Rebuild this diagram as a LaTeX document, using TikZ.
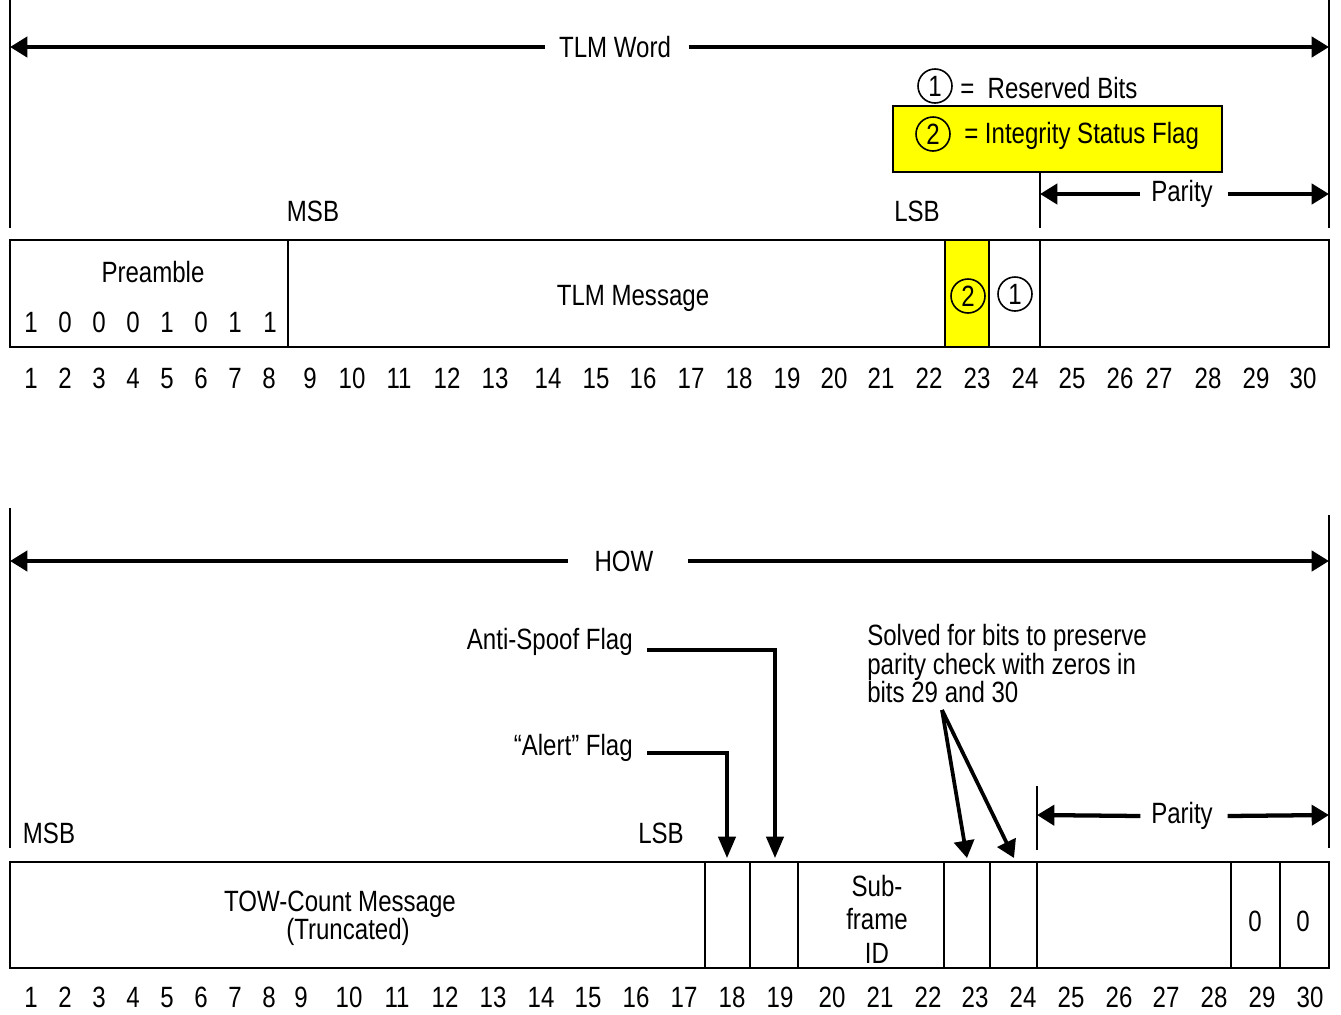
\documentclass[tikz,border=0pt]{standalone}
\usepackage{fontspec}
\setmainfont[FakeStretch=0.82]{Liberation Sans}
\usetikzlibrary{arrows.meta}
\definecolor{flagyellow}{RGB}{255,255,0}
\begin{document}
\begin{tikzpicture}[x=0.75pt,y=-0.75pt,
  txt/.style={font=\fontsize{22}{24}\selectfont, inner sep=0pt},
  digit/.style={font=\fontsize{22}{24}\selectfont, inner sep=0pt, anchor=base, yshift=-8pt},
  box/.style={draw=black, line width=1.5pt},
  edge/.style={draw=black, line width=1.5pt},
  bigarrow/.style={draw=black, line width=3.2pt, -{Triangle[length=13pt,width=15pt]}},
  flagarrow/.style={draw=black, line width=2.4pt, -{Triangle[length=16pt,width=13pt]}},
  num/.style={draw=black, line width=1.2pt, circle, minimum size=25.5pt, inner sep=0pt, font=\fontsize{22}{24}\selectfont}
]
\useasboundingbox (0,0) rectangle (1341,1014);

% ================= TLM WORD =================
\coordinate (tl0) at (10,0);   \coordinate (tl1) at (10,228);
\coordinate (tr0) at (1329,0); \coordinate (tr1) at (1329,228);
\draw[edge] (tl0) -- (tl1);
\draw[edge] (tr0) -- (tr1);
\node[txt] (tlm) at (615,47) {TLM Word};
\coordinate (tlmL) at (10,47); \coordinate (tlmR) at (1329,47);
\draw[bigarrow] ([xshift=-10pt]tlm.west) -- (tlmL);
\draw[bigarrow] ([xshift=13pt]tlm.east) -- (tlmR);

% legend
\node[num] (leg1) at (935,86) {1};
\node[txt, anchor=west] (leg1t) at (960,88) {=\ \ Reserved Bits};
\draw[box, fill=flagyellow] (893,106) rectangle (1222,172);
\node[num] (leg2) at (933,134) {2};
\node[txt, anchor=west] (leg2t) at (964,136) {= Integrity Status Flag};

% parity top
\coordinate (pt0) at (1040,172); \coordinate (pt1) at (1040,228);
\draw[edge] (pt0) -- (pt1);
\node[txt] (par1) at (1182,194) {Parity};
\coordinate (par1L) at (1040,194); \coordinate (par1R) at (1329,194);
\draw[bigarrow] ([xshift=-8pt]par1.west) -- (par1L);
\draw[bigarrow] ([xshift=11pt]par1.east) -- (par1R);

\node[txt] (msb1) at (313,211) {MSB};
\node[txt] (lsb1) at (917,211) {LSB};

% top box
\draw[box, fill=flagyellow] (945,240) rectangle (989,347);
\draw[box] (10,240) rectangle (1329,347);
\draw[edge] (288,240) -- (288,347);
\draw[edge] (1040,240) -- (1040,347);
\node[txt] (pre) at (153,272) {Preamble};
\foreach \b/\x [count=\i] in {1/31,0/65,0/99,0/133,1/167,0/201,1/235,1/270}
  \node[digit] (pb\i) at (\x,322) {\b};
\node[txt] (tlmmsg) at (633,298) {TLM Message};
\node[num] (c2) at (968,296) {2};
\node[num] (c1) at (1015,294) {1};

\foreach \x [count=\i] in {31,65,99,133,167,201,235,269,310,352,399,447,495,548,596,643,691,739,787,834,881,929,977,1025,1072,1120,1159,1208,1256,1303}
  \node[digit] (tn\i) at (\x,378) {\i};

% ================= HOW =================
\coordinate (bl0) at (10,508);   \coordinate (bl1) at (10,848);
\coordinate (br0) at (1329,515); \coordinate (br1) at (1329,848);
\draw[edge] (bl0) -- (bl1);
\draw[edge] (br0) -- (br1);
\node[txt] (how) at (624,561) {HOW};
\coordinate (howL) at (10,561); \coordinate (howR) at (1329,561);
\draw[bigarrow] ([xshift=-20pt]how.west) -- (howL);
\draw[bigarrow] ([xshift=26pt]how.east) -- (howR);

% flags
\node[txt, anchor=east] (asf) at (633,642) {Anti-Spoof Flag};
\coordinate (as1) at (647,650); \coordinate (as2) at (775,650); \coordinate (as3) at (775,858);
\draw[flagarrow] (as1) -- (as2) -- (as3);
\node[txt, anchor=east] (alf) at (633,748) {``Alert'' Flag};
\coordinate (al1) at (647,753); \coordinate (al2) at (727,753); \coordinate (al3) at (727,858);
\draw[flagarrow] (al1) -- (al2) -- (al3);

% solved note
\node[txt, anchor=north west, align=left, font=\fontsize{22}{20}\selectfont] (solv) at (867,624)
  {Solved for bits to preserve\\parity check with zeros in\\bits 29 and 30};
\coordinate (sv0) at (942,710);
\coordinate (sv1) at (967,858);
\coordinate (sv2) at (1014,858);
\draw[bigarrow, line width=2.8pt] (sv0) -- (sv1);
\draw[bigarrow, line width=2.8pt] (sv0) -- (sv2);

% parity bottom
\coordinate (pb0) at (1037,786); \coordinate (pb1) at (1037,850);
\draw[edge] (pb0) -- (pb1);
\node[txt] (par2) at (1182,816) {Parity};
\coordinate (par2L) at (1037,815); \coordinate (par2R) at (1329,815);
\draw[bigarrow] ([xshift=-8pt]par2.west) -- (par2L);
\draw[bigarrow] ([xshift=11pt]par2.east) -- (par2R);

\node[txt] (msb2) at (49,833) {MSB};
\node[txt] (lsb2) at (661,833) {LSB};

% bottom box
\draw[box] (10,862) rectangle (1329,968);
\foreach \x in {705,750,798,944,990,1037,1231,1280}
  \draw[edge] (\x,862) -- (\x,968);
\node[txt] (tow1) at (340,904) {TOW-Count Message};
\node[txt] (tow2) at (348,932) {(Truncated)};
\node[txt] (sub1) at (877,886) {Sub-};
\node[txt] (sub2) at (877,919) {frame};
\node[txt] (sub3) at (877,953) {ID};
\node[digit] (z29) at (1255,921) {0};
\node[digit] (z30) at (1303,921) {0};

\foreach \x [count=\i] in {31,65,99,133,167,201,235,269,301,349,397,445,493,541,588,636,684,732,780,832,880,928,975,1023,1071,1119,1166,1214,1262,1310}
  \node[digit] (bn\i) at (\x,997) {\i};
\end{tikzpicture}
\end{document}
